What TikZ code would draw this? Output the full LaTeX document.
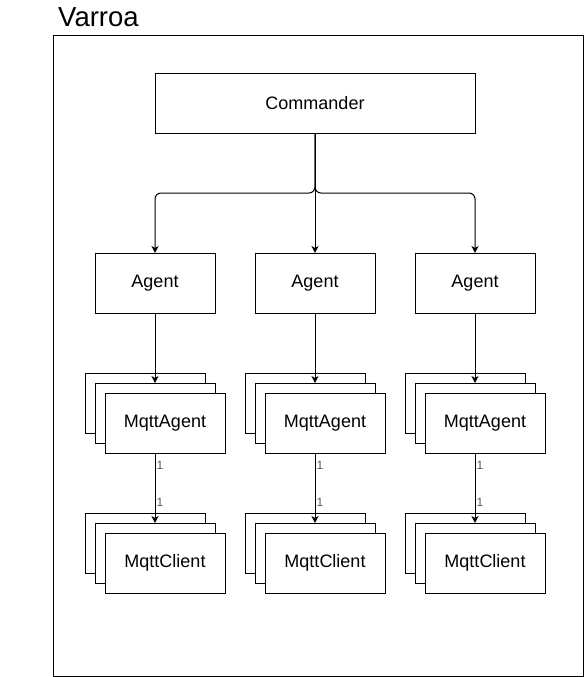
\documentclass[tikz,border=0pt]{standalone}
\usepackage{fontspec}
\setmainfont{Liberation Sans}
\usepackage{xcolor}
\usepackage{tikz}
\usetikzlibrary{positioning}
\usetikzlibrary{arrows.meta}
\usetikzlibrary{calc}

\begin{document}
\begin{tikzpicture}
  [
    x=1pt, y=-1pt,
    box/.style={minimum width=120pt, minimum height=60pt, draw=black,
    fill=white, line width=1pt, inner sep=0pt, outer sep=0pt, font=\fontsize{18}{21}\selectfont},
    ld/.style={draw=black, line width=1pt, -{Stealth[length=7pt, width=7pt, inset=2pt]}},
    num/.style={anchor=west, inner sep=1pt, text=black!65, font=\fontsize{12}{14}\selectfont}
  ]
  \useasboundingbox (0,0) rectangle (585,677);

  \node (title) at (58,27) [anchor=base west, inner sep=0pt, font=\fontsize{27.5}{32}\selectfont] {Varroa};
  \node (frame) at (318,356) [draw=black, line width=1pt, minimum width=530pt, minimum height=640pt, inner sep=0pt] {};

  \node (cmd) at (315,103) [box, minimum width=320pt] {Commander};

  \node (ag1) at (155,283) [box] {Agent};
  \node (ag2) at (315,283) [box] {Agent};
  \node (ag3) at (475,283) [box] {Agent};

  % MqttAgent stacks
  \node (ma1c) at (145,403) [box] {};
  \node (ma1b) at (155,413) [box] {};
  \node (ma1)  at (165,423) [box] {MqttAgent};
  \node (ma2c) at (305,403) [box] {};
  \node (ma2b) at (315,413) [box] {};
  \node (ma2)  at (325,423) [box] {MqttAgent};
  \node (ma3c) at (465,403) [box] {};
  \node (ma3b) at (475,413) [box] {};
  \node (ma3)  at (485,423) [box] {MqttAgent};

  % MqttClient stacks
  \node (mc1c) at (145,543) [box] {};
  \node (mc1b) at (155,553) [box] {};
  \node (mc1)  at (165,563) [box] {MqttClient};
  \node (mc2c) at (305,543) [box] {};
  \node (mc2b) at (315,553) [box] {};
  \node (mc2)  at (325,563) [box] {MqttClient};
  \node (mc3c) at (465,543) [box] {};
  \node (mc3b) at (475,553) [box] {};
  \node (mc3)  at (485,563) [box] {MqttClient};

  \coordinate (split) at (315,193);
  \draw [ld, rounded corners=6pt] (cmd.south) -- (split) -| (ag1.north);
  \draw [ld] (cmd.south) -- (ag2.north);
  \draw [ld, rounded corners=6pt] (cmd.south) -- (split) -| (ag3.north);

  \draw [ld] (ag1.south) -- (ma1b.north);
  \draw [ld] (ag2.south) -- (ma2b.north);
  \draw [ld] (ag3.south) -- (ma3b.north);

  \draw [ld] (ma1b.south |- ma1.south) -- (mc1b.north)
    node [num, pos=0.17] {1} node [num, pos=0.71] {1};
  \draw [ld] (ma2b.south |- ma2.south) -- (mc2b.north)
    node [num, pos=0.17] {1} node [num, pos=0.71] {1};
  \draw [ld] (ma3b.south |- ma3.south) -- (mc3b.north)
    node [num, pos=0.17] {1} node [num, pos=0.71] {1};
\end{tikzpicture}
\end{document}
